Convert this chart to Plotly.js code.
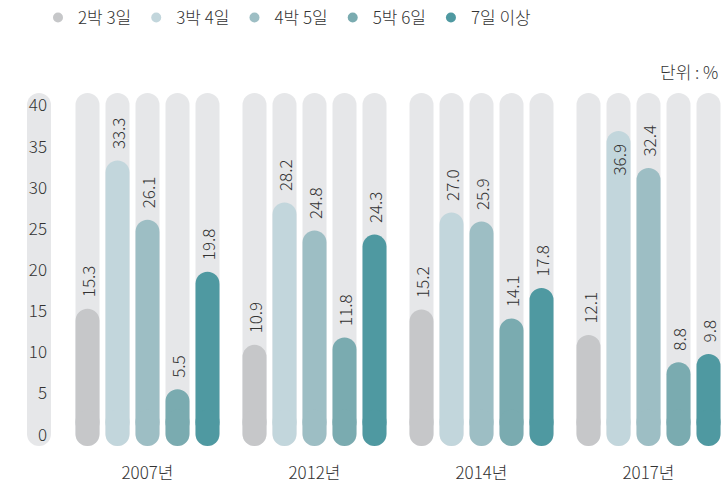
<!DOCTYPE html>
<html>
<head>
<meta charset="utf-8">
<script src="https://cdn.plot.ly/plotly-3.0.1.min.js"></script>
<style>html,body{margin:0;padding:0;background:#fff;}#chart{width:727px;height:489px;}</style>
</head>
<body>
<div id="chart"></div>
<script>
const categories = ['2007년', '2012년', '2014년', '2017년'];
const seriesNames = ['2박 3일', '3박 4일', '4박 5일', '5박 6일', '7일 이상'];
const nights2days3 = [15.3, 10.9, 15.2, 12.1];
const nights3days4 = [33.3, 28.2, 27.0, 36.9];
const nights4days5 = [26.1, 24.8, 25.9, 32.4];
const nights5days6 = [5.5, 11.8, 14.1, 8.8];
const days7plus = [19.8, 24.3, 17.8, 9.8];
const yTickVals = [0, 5, 10, 15, 20, 25, 30, 35, 40];
const unitLabel = '단위 : %';

const seriesValues = [nights2days3, nights3days4, nights4days5, nights5days6, days7plus];
const colors = ['#C6C7C9', '#C2D6DC', '#9DBEC4', '#7AABB0', '#4F99A1'];
const trackColor = '#E6E7E9';
const textColor = '#333333';
const FONT = "'Noto Sans CJK KR', 'Noto Sans', sans-serif";
const W = 300;

const plotW = 727 - 64, plotH = 489 - 88 - 38;
const xRange = [-0.5, 3.47];
const yRange = [-2, 42];
const pxPerX = plotW / (xRange[1] - xRange[0]);
const pxPerY = plotH / (yRange[1] - yRange[0]);
const barW = 24 / pxPerX;
const slot = 30 / pxPerX;
const capBottom = -1.4;      // rounded end below zero
const trackTop = 41.5;       // rounded end above 40
const overlapTop = 3;

const traces = [];
const centers = seriesNames.map((_, i) => (i - 2) * slot);

function barPair(yVals, color, c, name) {
  // upper piece: square at 0, rounded at the value
  traces.push({type: 'bar', name: name, x: categories, y: yVals, base: 0,
    width: barW, offset: c - barW / 2, marker: {color: color, cornerradius: '50%', line: {width: 0}},
    showlegend: false, hoverinfo: 'skip'});
  // lower piece: overlaps the upper piece, rounded below zero
  const top = Math.min(overlapTop, Math.min.apply(null, yVals));
  traces.push({type: 'bar', x: categories, y: yVals.map(() => capBottom - top), base: top,
    width: barW, offset: c - barW / 2, marker: {color: color, cornerradius: '50%', line: {width: 0}},
    showlegend: false, hoverinfo: 'skip'});
}

// background tracks
centers.forEach(c => barPair(categories.map(() => trackTop), trackColor, c, 'track'));
// data bars
seriesValues.forEach((vals, i) => barPair(vals, colors[i], centers[i], seriesNames[i]));

// legend entries
seriesNames.forEach((n, i) => {
  traces.push({type: 'scatter', mode: 'markers', name: n, x: [null], y: [null],
    marker: {color: colors[i], size: 10, symbol: 'circle'}, hoverinfo: 'skip'});
});

// value labels
const annotations = [];
seriesValues.forEach((vals, i) => {
  vals.forEach((v, j) => {
    const inside = v > 35;
    annotations.push({
      xref: 'x', yref: 'y', x: j + centers[i], y: v,
      text: v.toFixed(1), showarrow: false, textangle: -90,
      xanchor: 'center', yanchor: inside ? 'top' : 'bottom', yshift: inside ? -11 : 9,
      font: {family: FONT, size: 17, color: textColor, weight: W}
    });
  });
});
annotations.push({xref: 'paper', yref: 'paper', x: (720 - 64) / plotW, y: (plotH + 88 - 70) / plotH,
  xanchor: 'right', yanchor: 'middle', text: unitLabel, showarrow: false,
  font: {family: FONT, size: 17, color: textColor, weight: W}});

// rounded track behind y tick labels
const pillX = (39 - 64) / plotW;
const shapes = [
  {type: 'rect', xref: 'paper', yref: 'y', x0: (27 - 64) / plotW, x1: (51 - 64) / plotW,
   y0: capBottom + 12 / pxPerY, y1: trackTop - 12 / pxPerY, fillcolor: trackColor, line: {width: 0}, layer: 'below'},
  {type: 'circle', xref: 'paper', yref: 'y', xsizemode: 'pixel', ysizemode: 'pixel',
   xanchor: pillX, yanchor: trackTop - 12 / pxPerY, x0: -12, x1: 12, y0: -12, y1: 12,
   fillcolor: trackColor, line: {width: 0}, layer: 'below'},
  {type: 'circle', xref: 'paper', yref: 'y', xsizemode: 'pixel', ysizemode: 'pixel',
   xanchor: pillX, yanchor: capBottom + 12 / pxPerY, x0: -12, x1: 12, y0: -12, y1: 12,
   fillcolor: trackColor, line: {width: 0}, layer: 'below'}
];

const layout = {
  width: 727, height: 489,
  margin: {l: 64, r: 0, t: 88, b: 38},
  paper_bgcolor: '#ffffff', plot_bgcolor: '#ffffff',
  barmode: 'overlay',
  font: {family: FONT, size: 17, color: textColor, weight: W},
  xaxis: {type: 'category', range: xRange, showgrid: false, zeroline: false, showline: false,
    ticks: '', ticklabelstandoff: 10, tickfont: {family: FONT, size: 17, color: textColor, weight: W}, fixedrange: true},
  yaxis: {range: yRange, tickvals: yTickVals, showgrid: false, zeroline: false, showline: false,
    ticks: '', ticklabelstandoff: 16, tickfont: {family: FONT, size: 17, color: textColor, weight: W}, fixedrange: true},
  showlegend: true,
  legend: {orientation: 'h', x: (38 - 64) / plotW, xanchor: 'left', y: (plotH + 88 - 17) / plotH, yanchor: 'middle',
    font: {family: FONT, size: 17, color: textColor, weight: W}, itemwidth: 30, bgcolor: 'rgba(0,0,0,0)'},
  annotations: annotations,
  shapes: shapes
};

Plotly.newPlot('chart', traces, layout, {displayModeBar: false, staticPlot: true});
</script>
</body>
</html>
